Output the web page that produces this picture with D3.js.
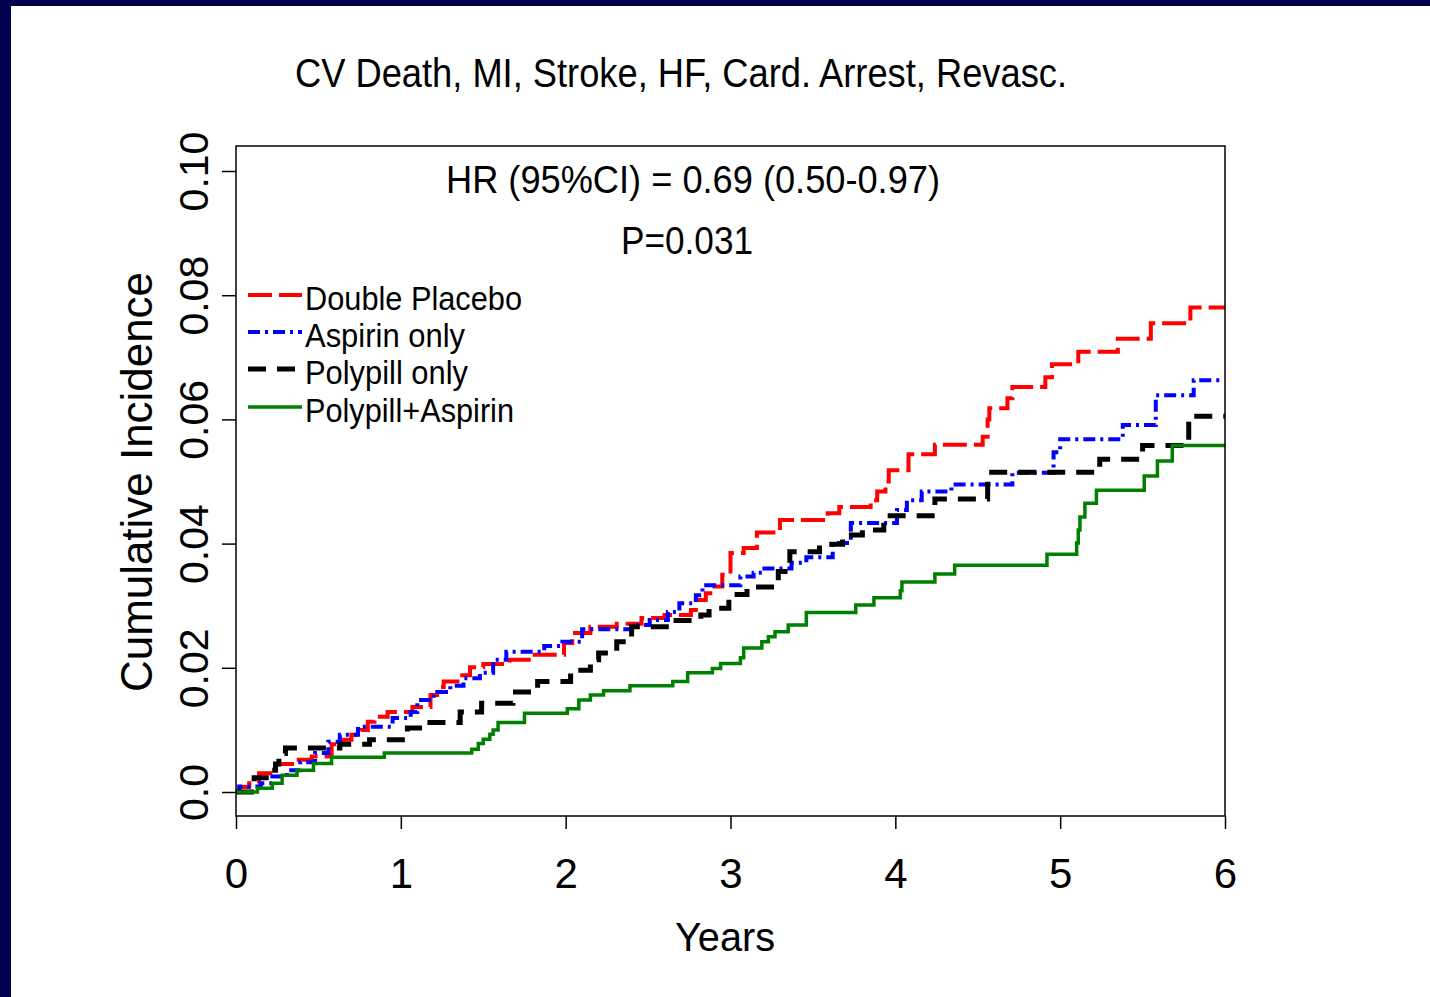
<!DOCTYPE html>
<html>
<head>
<meta charset="utf-8">
<script src="https://cdn.jsdelivr.net/npm/d3@7/dist/d3.min.js"></script>
<style>
  html, body { margin: 0; padding: 0; background: #fff; }
  svg { display: block; font-family: 'Liberation Sans', Arial, sans-serif; }
</style>
</head>
<body>
<script>
// ---- data ----
var title    = 'CV Death, MI, Stroke, HF, Card. Arrest, Revasc.';
var hrText   = 'HR (95%CI) = 0.69 (0.50-0.97)';
var pText    = 'P=0.031';
var xTicks   = [0, 1, 2, 3, 4, 5, 6];
var yTicks   = [0, 0.02, 0.04, 0.06, 0.08, 0.10];
var yLabels  = ['0.0', '0.02', '0.04', '0.06', '0.08', '0.10'];
var groups   = ['Double Placebo', 'Aspirin only', 'Polypill only', 'Polypill+Aspirin'];

// [years, cumulative incidence] at each step
var placebo = [
  [0, 0], [0.02, 0.0008], [0.08, 0.0014], [0.14, 0.0030], [0.24, 0.0045], [0.34, 0.0052],
  [0.46, 0.0057], [0.58, 0.0077], [0.65, 0.0084], [0.70, 0.0092], [0.76, 0.0100],
  [0.80, 0.0113], [0.84, 0.0121], [0.92, 0.0129], [1.07, 0.0137], [1.18, 0.0156],
  [1.22, 0.0169], [1.26, 0.0178], [1.36, 0.0188], [1.42, 0.0201], [1.50, 0.0206],
  [1.66, 0.0213], [1.80, 0.0221], [1.99, 0.0240], [2.04, 0.0256], [2.15, 0.0266],
  [2.31, 0.0271], [2.46, 0.0280], [2.60, 0.0285], [2.76, 0.0293], [2.79, 0.0309],
  [2.85, 0.0320], [2.89, 0.0331], [2.95, 0.0350], [3.00, 0.0385], [3.08, 0.0393],
  [3.16, 0.0418], [3.30, 0.0438], [3.59, 0.0449], [3.66, 0.0459], [3.85, 0.0470],
  [3.89, 0.0484], [3.94, 0.0500], [3.96, 0.0518], [4.08, 0.0544], [4.24, 0.0559],
  [4.53, 0.0572], [4.56, 0.0600], [4.57, 0.0618], [4.68, 0.0634], [4.71, 0.0652],
  [4.91, 0.0668], [4.95, 0.0689], [5.11, 0.0709], [5.35, 0.0730], [5.55, 0.0755],
  [5.79, 0.0780], [6.00, 0.0780]
];
var aspirin = [
  [0, 0], [0.02, 0.0009], [0.15, 0.0014], [0.22, 0.0025], [0.31, 0.0035], [0.39, 0.0048],
  [0.48, 0.0063], [0.56, 0.0081], [0.63, 0.0092], [0.74, 0.0105], [0.95, 0.0119],
  [1.06, 0.0129], [1.10, 0.0148], [1.20, 0.0161], [1.30, 0.0171], [1.38, 0.0183],
  [1.48, 0.0192], [1.56, 0.0213], [1.64, 0.0226], [1.87, 0.0235], [1.98, 0.0242],
  [2.10, 0.0262], [2.40, 0.0269], [2.51, 0.0277], [2.62, 0.0290], [2.69, 0.0304],
  [2.79, 0.0317], [2.83, 0.0333], [3.06, 0.0347], [3.14, 0.0353], [3.19, 0.0360],
  [3.37, 0.0369], [3.46, 0.0378], [3.62, 0.0401], [3.73, 0.0433], [4.01, 0.0454],
  [4.07, 0.0470], [4.16, 0.0484], [4.34, 0.0495], [4.71, 0.0514], [4.96, 0.0547],
  [5.00, 0.0568], [5.38, 0.0591], [5.58, 0.0639], [5.81, 0.0663], [5.98, 0.0663]
];
var polypill = [
  [0, 0], [0.11, 0.0023], [0.21, 0.0035], [0.24, 0.0045], [0.26, 0.0055], [0.28, 0.0062],
  [0.30, 0.0071], [0.63, 0.0077], [0.81, 0.0084], [1.04, 0.0103], [1.13, 0.0112],
  [1.36, 0.0129], [1.49, 0.0143], [1.68, 0.0161], [1.83, 0.0178], [2.03, 0.0196],
  [2.15, 0.0213], [2.20, 0.0224], [2.31, 0.0242], [2.40, 0.0266], [2.63, 0.0276],
  [2.82, 0.0285], [2.87, 0.0296], [2.99, 0.0310], [3.04, 0.0318], [3.10, 0.0330],
  [3.29, 0.0355], [3.36, 0.0387], [3.54, 0.0399], [3.68, 0.0414], [3.80, 0.0422],
  [3.93, 0.0445], [4.24, 0.0472], [4.56, 0.0515], [5.24, 0.0536], [5.50, 0.0558],
  [5.78, 0.0605], [6.00, 0.0605]
];
var polyAsp = [
  [0, 0], [0.13, 0.0006], [0.22, 0.0014], [0.28, 0.0027], [0.37, 0.0035], [0.47, 0.0046],
  [0.58, 0.0056], [0.90, 0.0063], [1.43, 0.0069], [1.47, 0.0078], [1.50, 0.0085],
  [1.54, 0.0093], [1.56, 0.0100], [1.59, 0.0112], [1.75, 0.0127], [2.01, 0.0134],
  [2.08, 0.0148], [2.15, 0.0156], [2.23, 0.0163], [2.39, 0.0171], [2.65, 0.0178],
  [2.74, 0.0192], [2.89, 0.0199], [2.94, 0.0207], [3.06, 0.0216], [3.08, 0.0232],
  [3.19, 0.0242], [3.23, 0.0250], [3.27, 0.0258], [3.35, 0.0269], [3.46, 0.0289],
  [3.76, 0.0301], [3.87, 0.0313], [4.03, 0.0324], [4.04, 0.0338], [4.24, 0.0351],
  [4.36, 0.0365], [4.92, 0.0383], [5.10, 0.0401], [5.11, 0.0422], [5.12, 0.0443],
  [5.15, 0.0465], [5.22, 0.0486], [5.51, 0.0509], [5.59, 0.0533], [5.68, 0.0558],
  [6.00, 0.0558]
];

var seriesData = [placebo, aspirin, polypill, polyAsp];
var colors     = ['#ff0000', '#0000ff', '#000000', '#008000'];
var dashes     = ['24,7', '12,5,3,5', '18,11', null];
var widths     = [4, 4, 5, 3.5];

// ---- layout ----
var W = 1430, H = 997;
var box = { left: 236, right: 1225, top: 146, bottom: 816 };
var FONT = "'Liberation Sans', Arial, sans-serif";

var svg = d3.select('body').append('svg')
  .attr('width', W)
  .attr('height', H);

// slide frame
svg.append('rect').attr('x', 0).attr('y', 0).attr('width', W).attr('height', H).attr('fill', '#fff');
svg.append('rect').attr('x', 0).attr('y', 0).attr('width', W).attr('height', 6).attr('fill', '#000050');
svg.append('rect').attr('x', 0).attr('y', 0).attr('width', 11).attr('height', H).attr('fill', '#000050');

var x = d3.scaleLinear().domain([0, 6]).range([box.left, box.right]);
var y = d3.scaleLinear().domain([0, 0.10]).range([792, 171]);

// title + annotations (text in the original is slightly condensed)
svg.append('text')
  .attr('x', 681).attr('y', 87)
  .attr('text-anchor', 'middle')
  .attr('font-size', 40)
  .attr('textLength', 772).attr('lengthAdjust', 'spacingAndGlyphs')
  .text(title);

svg.append('text')
  .attr('x', 693).attr('y', 193)
  .attr('text-anchor', 'middle')
  .attr('font-size', 39)
  .attr('textLength', 494).attr('lengthAdjust', 'spacingAndGlyphs')
  .text(hrText);

svg.append('text')
  .attr('x', 687).attr('y', 254)
  .attr('text-anchor', 'middle')
  .attr('font-size', 39)
  .attr('textLength', 132).attr('lengthAdjust', 'spacingAndGlyphs')
  .text(pText);

// curves
var line = d3.line()
  .x(function (d) { return x(d[0]); })
  .y(function (d) { return y(d[1]); })
  .curve(d3.curveStepAfter);

var clip = svg.append('defs').append('clipPath').attr('id', 'plotclip');
clip.append('rect')
  .attr('x', box.left).attr('y', box.top)
  .attr('width', box.right - box.left).attr('height', box.bottom - box.top);

var curveG = svg.append('g').attr('clip-path', 'url(#plotclip)');
seriesData.forEach(function (s, i) {
  curveG.append('path')
    .datum(s)
    .attr('d', line)
    .attr('fill', 'none')
    .attr('stroke', colors[i])
    .attr('stroke-width', widths[i])
    .attr('stroke-dasharray', dashes[i])
    .attr('stroke-linejoin', 'miter');
});

// plot box
svg.append('rect')
  .attr('x', box.left).attr('y', box.top)
  .attr('width', box.right - box.left).attr('height', box.bottom - box.top)
  .attr('fill', 'none')
  .attr('stroke', '#000')
  .attr('stroke-width', 1.5);

// x axis
var xAxis = svg.append('g')
  .attr('transform', 'translate(0,' + box.bottom + ')')
  .call(d3.axisBottom(x).tickValues(xTicks).tickSize(13).tickFormat(d3.format('d')));
xAxis.select('.domain').remove();
xAxis.selectAll('.tick line').attr('stroke', '#000').attr('stroke-width', 1.5);
xAxis.selectAll('.tick text')
  .attr('y', 72).attr('dy', null)
  .attr('font-size', 42)
  .attr('font-family', FONT)
  .attr('fill', '#000');

// y axis
var yAxis = svg.append('g')
  .attr('transform', 'translate(' + box.left + ',0)')
  .call(d3.axisLeft(y).tickValues(yTicks).tickSize(14).tickFormat(function (d, i) { return yLabels[i]; }));
yAxis.select('.domain').remove();
yAxis.selectAll('.tick line').attr('stroke', '#000').attr('stroke-width', 1.5);
yAxis.selectAll('.tick text')
  .attr('x', null).attr('dy', null)
  .attr('text-anchor', 'middle')
  .attr('transform', 'translate(-28,0) rotate(-90)')
  .attr('font-size', 41)
  .attr('font-family', FONT)
  .attr('fill', '#000');

// axis titles
svg.append('text')
  .attr('x', 725).attr('y', 951)
  .attr('text-anchor', 'middle')
  .attr('font-size', 41)
  .attr('textLength', 100).attr('lengthAdjust', 'spacingAndGlyphs')
  .text('Years');

svg.append('text')
  .attr('transform', 'translate(152,482) rotate(-90)')
  .attr('text-anchor', 'middle')
  .attr('font-size', 45)
  .attr('textLength', 420).attr('lengthAdjust', 'spacingAndGlyphs')
  .text('Cumulative Incidence');

// legend
var legendY     = [295, 332, 369, 407];
var legendWidth = [217, 160, 163, 209];
var legend = svg.append('g');
groups.forEach(function (g, i) {
  legend.append('line')
    .attr('x1', 248).attr('x2', 302)
    .attr('y1', legendY[i]).attr('y2', legendY[i])
    .attr('stroke', colors[i])
    .attr('stroke-width', widths[i])
    .attr('stroke-dasharray', dashes[i]);
  legend.append('text')
    .attr('x', 305).attr('y', legendY[i] + 15)
    .attr('font-size', 34)
    .attr('textLength', legendWidth[i]).attr('lengthAdjust', 'spacingAndGlyphs')
    .text(g);
});
</script>
</body>
</html>
